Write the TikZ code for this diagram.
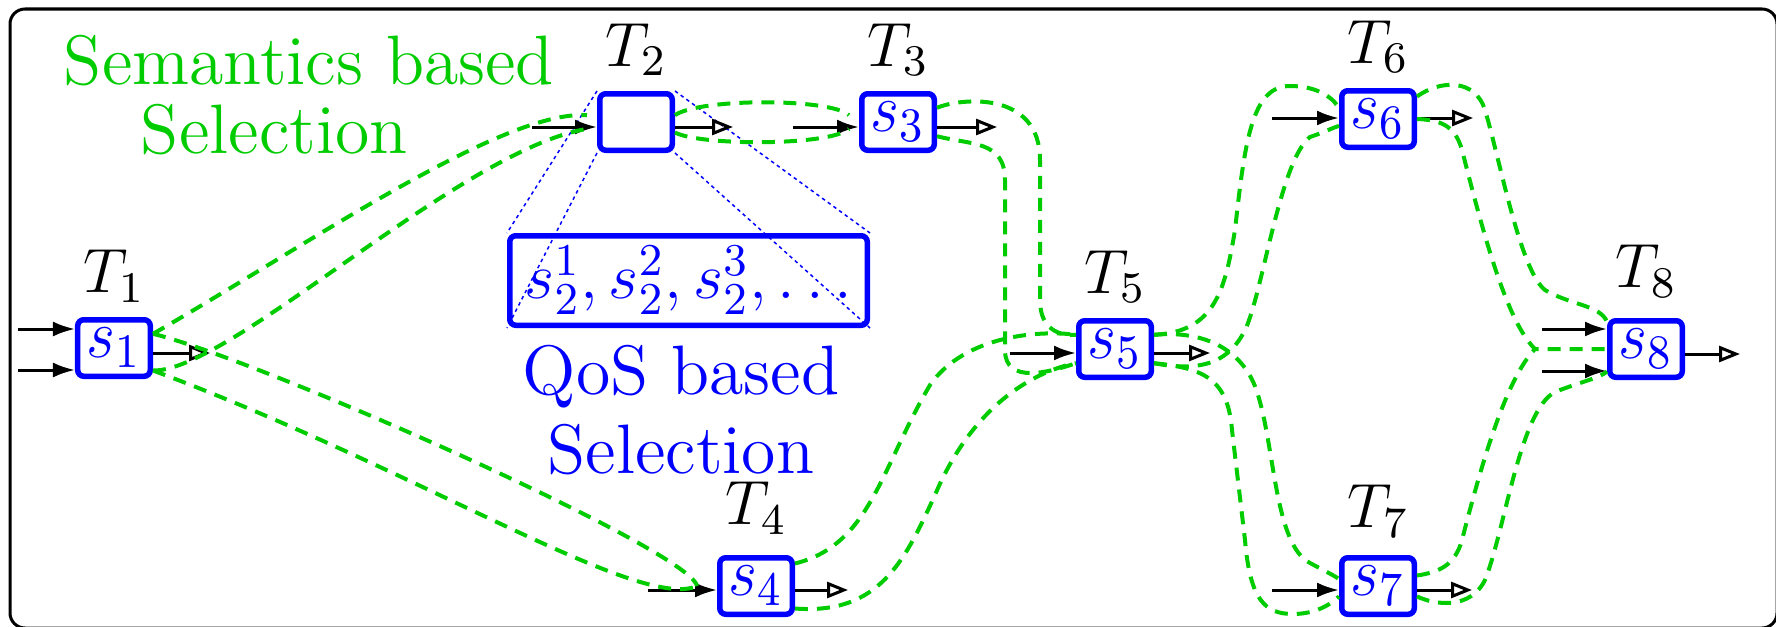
\RequirePackage{fix-cm}
\documentclass[tikz,border=0pt]{standalone}
\usepackage{graphicx}
\usetikzlibrary{arrows.meta}

\definecolor{selgreen}{RGB}{0,204,0}
\newcommand{\svc}[1]{\scalebox{1}[1.1]{$s_{#1}$}}

\tikzset{
  task/.style={draw=blue, line width=1.1pt, rounded corners=1.2pt,
    minimum width=14.5pt, minimum height=11.3pt, inner sep=0pt,
    text=blue, font=\fontsize{12.5}{12.5}\selectfont},
  tlab/.style={inner sep=0pt, font=\fontsize{12.5}{12.5}\selectfont},
  inarr/.style={line width=0.6pt, -{Latex[length=4.4pt,width=3pt]}},
  outarr/.style={line width=0.6pt, -{Triangle[open,length=4.2pt,width=3.2pt]}},
  sel/.style={draw=selgreen, line width=0.8pt, dash pattern=on 2.6pt off 1.8pt},
  zoomline/.style={draw=blue, line width=0.3pt, dash pattern=on 0.7pt off 0.7pt},
}

\begin{document}
\begin{tikzpicture}[x=0.2pt, y=-0.2pt]
    \useasboundingbox (0,0) rectangle (1776,627);
    \draw[line width=0.6pt, rounded corners=3pt] (10,9) rectangle (1777,628);

    % tasks
    \node[task, label={[tlab, label distance=2.8pt]above:$T_1$}] (s1) at (114,348) {\svc{1}};
    \node[task, label={[tlab, label distance=2.8pt]above:$T_2$}] (s2) at (636,122) {};
    \node[task, label={[tlab, label distance=2.8pt]above:$T_3$}] (s3) at (898,122) {\svc{3}};
    \node[task, label={[tlab, label distance=4pt]above:$T_4$}] (s4) at (756,586) {\svc{4}};
    \node[task, label={[tlab, label distance=2.8pt]above:$T_5$}] (s5) at (1115,349) {\svc{5}};
    \node[task, label={[tlab, label distance=2.8pt]above:$T_6$}] (s6) at (1378,119) {\svc{6}};
    \node[task, label={[tlab, label distance=3.4pt]above:$T_7$}] (s7) at (1378,586) {\svc{7}};
    \node[task, label={[tlab, label distance=4pt]above:$T_8$}] (s8) at (1646,349) {\svc{8}};

    % candidate services of T2
    \node[draw=blue, line width=1.1pt, rounded corners=1.2pt, minimum width=71.5pt,
      minimum height=17.9pt, inner sep=0pt, text=blue, font=\fontsize{13}{13}\selectfont]
      (qos) at (688.5,280.5) {$s_2^1, s_2^2, s_2^3, \ldots$};
    \draw[zoomline] (s2.north west) -- (qos.north west);
    \draw[zoomline] (s2.south west) -- (qos.south west);
    \draw[zoomline] (s2.north east) -- (qos.north east);
    \draw[zoomline] (s2.south east) -- (qos.south east);

    \node[anchor=north west, inner sep=0pt, align=left, text=selgreen,
      font=\fontsize{14}{13.8}\selectfont] (sem) at (63,34)
      {Semantics based\\\hspace*{15.4pt}Selection};
    \node[anchor=north, inner sep=0pt, align=center, text=blue,
      font=\fontsize{14}{15.8}\selectfont] (qtxt) at (681,344)
      {QoS based\\Selection};

    % inputs and outputs
    \coordinate (i1a) at (18,329);
    \coordinate (i1b) at (18,370);
    \coordinate (o1) at (210,353);
    \coordinate (i2) at (532,127);
    \coordinate (o2) at (733,127);
    \coordinate (i3) at (793,127);
    \coordinate (o3) at (997,127);
    \coordinate (i4) at (648,590);
    \coordinate (o4) at (848,590);
    \coordinate (i5) at (1010,353);
    \coordinate (o5) at (1210,353);
    \coordinate (i6) at (1272,118);
    \coordinate (o6) at (1473,118);
    \coordinate (i7) at (1272,590);
    \coordinate (o7) at (1472,590);
    \coordinate (i8a) at (1542,329);
    \coordinate (i8b) at (1542,371);
    \coordinate (o8) at (1740,354);

    \draw[inarr] (i1a) -- (i1a -| s1.west);
    \draw[inarr] (i1b) -- (i1b -| s1.west);
    \draw[outarr] (o1 -| s1.east) -- (o1);
    \draw[inarr] (i2) -- (i2 -| s2.west);
    \draw[outarr] (o2 -| s2.east) -- (o2);
    \draw[inarr] (i3) -- (i3 -| s3.west);
    \draw[outarr] (o3 -| s3.east) -- (o3);
    \draw[inarr] (i4) -- (i4 -| s4.west);
    \draw[outarr] (o4 -| s4.east) -- (o4);
    \draw[inarr] (i5) -- (i5 -| s5.west);
    \draw[outarr] (o5 -| s5.east) -- (o5);
    \draw[inarr] (i6) -- (i6 -| s6.west);
    \draw[outarr] (o6 -| s6.east) -- (o6);
    \draw[inarr] (i7) -- (i7 -| s7.west);
    \draw[outarr] (o7 -| s7.east) -- (o7);
    \draw[inarr] (i8a) -- (i8a -| s8.west);
    \draw[inarr] (i8b) -- (i8b -| s8.west);
    \draw[outarr] (o8 -| s8.east) -- (o8);

    % selected paths
    \draw[sel] (s1.20) .. controls (300,250) and (500,110) .. ([xshift=-2pt]s2.170);
    \draw[sel] (s1.-30) .. controls (230,372) and (460,150) .. ([xshift=-2pt]s2.190);
    \draw[sel] (s1.20) .. controls (260,360) and (690,550) .. ([xshift=-4pt]s4.west);
    \draw[sel] (s1.-30) .. controls (420,470) and (640,612) .. ([xshift=-4pt]s4.west);

    \draw[sel] (s2.10) .. controls (700,98) and (830,98) .. ([xshift=-2pt]s3.170);
    \draw[sel] (s2.-15) .. controls (700,146) and (830,146) .. ([xshift=-2pt]s3.190);

    \draw[sel] (s3.20) .. controls (960,98) and (1040,90) .. (1040,160) -- (1040,300)
      .. controls (1040,330) and (1060,336) .. (s5.160);
    \draw[sel] (s3.-20) .. controls (970,145) and (1005,140) .. (1005,180) -- (1005,350)
      .. controls (1005,385) and (1050,372) .. (s5.-160);

    \draw[sel] (s4.30) .. controls (870,545) and (880,470) .. (930,385)
      .. controls (965,335) and (1040,330) .. (s5.160);
    \draw[sel] (s4.-30) .. controls (880,615) and (905,560) .. (935,495)
      .. controls (975,400) and (1040,370) .. (s5.-160);

    \draw[sel] (s5.20) .. controls (1215,332) and (1225,290) .. (1235,230)
      .. controls (1245,140) and (1252,86) .. (1290,86)
      .. controls (1320,86) and (1335,100) .. (s6.165);
    \draw[sel] (s5.-20) .. controls (1205,373) and (1230,360) .. (1245,330)
      .. controls (1262,296) and (1280,160) .. (1310,137)
      .. controls (1325,132) and (1332,128) .. (s6.-170);
    \draw[sel] (s5.20) .. controls (1205,330) and (1245,350) .. (1258,395)
      .. controls (1275,450) and (1275,545) .. (1310,563)
      .. controls (1325,571) and (1335,576) .. (s7.170);
    \draw[sel] (s5.-20) .. controls (1205,368) and (1228,380) .. (1232,430) -- (1245,540)
      .. controls (1250,600) and (1265,614) .. (1293,614)
      .. controls (1315,614) and (1330,605) .. (s7.-165);

    \coordinate (m8) at (1535,349);
    \draw[sel] (s6.30) .. controls (1440,80) and (1475,78) .. (1485,110)
      .. controls (1500,160) and (1520,270) .. (1545,290)
      .. controls (1570,305) and (1600,305) .. (s8.145);
    \draw[sel] (s6.east) .. controls (1440,120) and (1455,125) .. (1462,150)
      .. controls (1480,220) and (1505,320) .. (m8) -- (s8.west);
    \draw[sel] (s7.15) .. controls (1440,572) and (1455,565) .. (1462,540)
      .. controls (1480,470) and (1505,380) .. (m8);
    \draw[sel] (s7.-15) .. controls (1435,605) and (1470,610) .. (1485,580)
      .. controls (1505,530) and (1520,410) .. (1555,392)
      .. controls (1580,382) and (1600,378) .. (s8.-150);
\end{tikzpicture}
\end{document}
